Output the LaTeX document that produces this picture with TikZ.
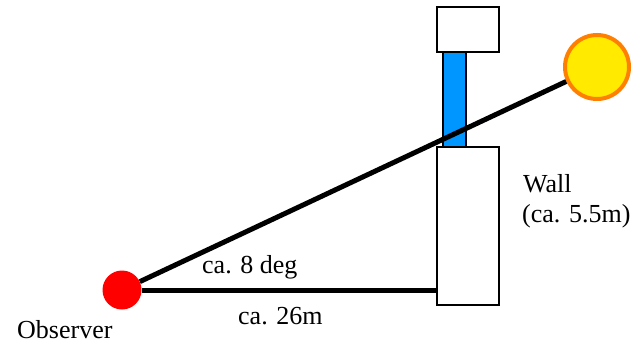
\documentclass[tikz,border=0pt]{standalone}
\usepackage{fontspec}
\setmainfont{Liberation Serif}
\begin{document}
\begin{tikzpicture}[x=1pt,y=-1pt,
  box/.style={draw=black,line width=2pt,fill=white,inner sep=0pt,minimum width=62pt},
  bar/.style={draw=black,line width=2pt,fill=barblue,inner sep=0pt,minimum width=23pt},
  ray/.style={line width=5pt,black},
  lbl/.style={inner sep=0pt,font=\fontsize{26}{30}\selectfont}]
\definecolor{barblue}{RGB}{0,150,255}
\definecolor{sunyellow}{RGB}{255,234,0}
\definecolor{sunorange}{RGB}{255,128,0}
\useasboundingbox (0,0) rectangle (644,343);
% blue bar first, boxes over it
\node[bar,minimum height=95pt] (bar) at (454.5,99.5) {};
\node[box,minimum height=45pt] (top) at (468,29.5) {};
\node[box,minimum height=158pt] (wall) at (468,226) {};
% circles
\node[circle,fill=red,inner sep=0pt,minimum size=39pt] (obs) at (122,290) {};
\node[circle,draw=sunorange,line width=4pt,fill=sunyellow,inner sep=0pt,minimum size=64pt] (sun) at (597,67) {};
% connectors
\draw[ray] (obs) -- (sun);
\draw[ray] (obs.east) -- (obs.east -| wall.west);
% labels
\node[lbl,anchor=base west] (wl) at (523,192) {Wall};
\node[lbl,anchor=base west] (wh) at (522,222) {(ca. 5.5m)};
\node[lbl,anchor=base west] (ang) at (202,273) {ca. 8 deg};
\node[lbl,anchor=base west] (dist) at (238,324) {ca. 26m};
\node[lbl,anchor=base west] (ol) at (17,338) {Observer};
\end{tikzpicture}
\end{document}
